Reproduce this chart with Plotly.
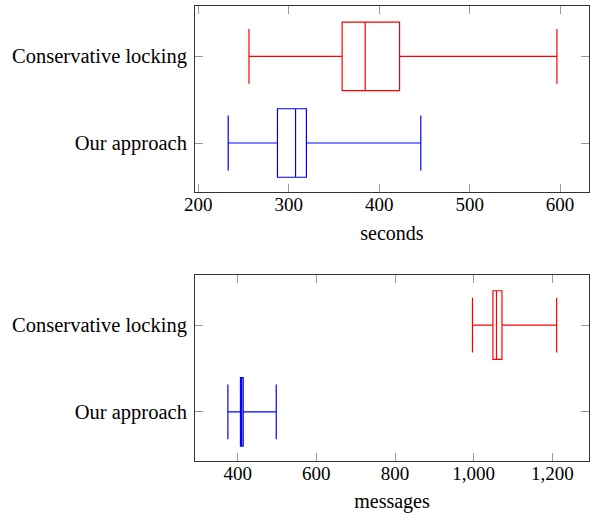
import plotly.graph_objects as go

categories = ["Our approach", "Conservative locking"]

# seconds
sec_lower = [233, 256]
sec_q1 = [287.5, 359]
sec_median = [307.5, 384.5]
sec_q3 = [319.5, 422.5]
sec_upper = [446, 596.5]

# messages
msg_lower = [375, 997]
msg_q1 = [407, 1049]
msg_median = [410, 1058]
msg_q3 = [414, 1072]
msg_upper = [498, 1211]

colors = ["#0000ff", "#ff0000"]
FONT = "Liberation Serif"

fig = go.Figure()

def add_boxes(lower, q1, med, q3, upper, xa, ya):
    for i, cat in enumerate(categories):
        fig.add_trace(go.Box(
            orientation="h",
            y=[cat],
            lowerfence=[lower[i]], q1=[q1[i]], median=[med[i]], q3=[q3[i]], upperfence=[upper[i]],
            width=0.79, whiskerwidth=0.8,
            line=dict(color=colors[i], width=1.2),
            fillcolor="rgba(0,0,0,0)",
            showlegend=False, hoverinfo="skip",
            xaxis=xa, yaxis=ya,
        ))

add_boxes(sec_lower, sec_q1, sec_median, sec_q3, sec_upper, "x", "y")
add_boxes(msg_lower, msg_q1, msg_median, msg_q3, msg_upper, "x2", "y2")

axis_common = dict(
    showgrid=False, zeroline=False, showline=True, linecolor="#333333", linewidth=1,
    mirror="ticks", ticks="inside", ticklen=8, tickcolor="#999999", tickwidth=1,
    automargin=False,
)
xfont = dict(family=FONT, size=19, color="black")
yfont = dict(family=FONT, size=20.5, color="black")

xd = [195 / 595, 589 / 595]
fig.update_layout(
    width=595, height=513,
    margin=dict(l=0, r=0, t=0, b=0),
    paper_bgcolor="white", plot_bgcolor="white",
    font=dict(family=FONT, color="black"),
    xaxis=dict(domain=xd, anchor="y", range=[196.3, 632], tick0=200, dtick=100, tickfont=xfont,
               ticklabelstandoff=-5,
               title=dict(text="seconds", font=dict(family=FONT, size=20), standoff=12), **axis_common),
    yaxis=dict(domain=[1 - 192 / 513, 1 - 6 / 513], anchor="x", type="category", tickfont=yfont,
               categoryorder="array", categoryarray=categories, range=[-0.565, 1.58],
               ticklabelstandoff=3, **axis_common),
    xaxis2=dict(domain=xd, anchor="y2", range=[291.4, 1293.3], tick0=400, dtick=200, tickformat=",",
                tickfont=xfont, ticklabelstandoff=-5,
                title=dict(text="messages", font=dict(family=FONT, size=20), standoff=12), **axis_common),
    yaxis2=dict(domain=[1 - 461 / 513, 1 - 274.7 / 513], anchor="x2", type="category", tickfont=yfont,
                categoryorder="array", categoryarray=categories, range=[-0.565, 1.58],
                ticklabelstandoff=3, **axis_common),
)

fig.write_html("out.html", config={"displayModeBar": False, "staticPlot": True},
               post_script="document.body.style.margin='0';document.body.style.overflow='hidden';")
